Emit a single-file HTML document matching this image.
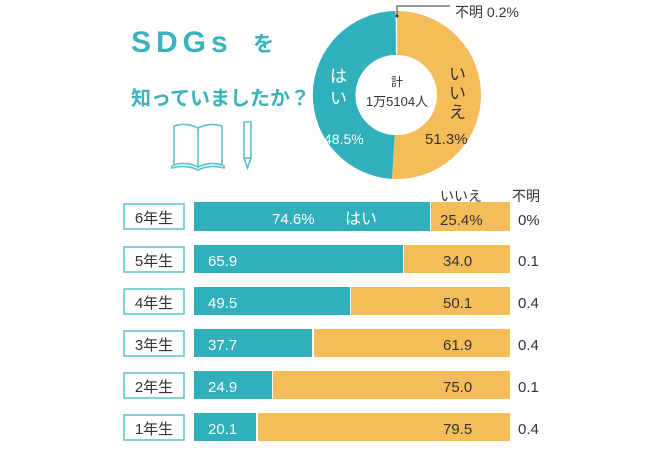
<!DOCTYPE html>
<html><head><meta charset="utf-8"><style>
html,body{margin:0;padding:0;background:#fff;}
svg{display:block;font-family:"Liberation Sans","Noto Sans CJK JP",sans-serif;}
</style></head><body>
<svg width="670" height="470" viewBox="0 0 670 470">
<text x="131" y="52" font-size="30" font-weight="bold" fill="#3bb3bd" letter-spacing="5">SDGs</text>
<text x="253" y="51" font-size="21" font-weight="bold" fill="#3bb3bd">を</text>
<text x="131" y="105" font-size="20" font-weight="bold" fill="#3bb3bd">知っていましたか？</text>
<g fill="none" stroke="#5cc0c8" stroke-width="1.6">
<path d="M174 126 Q186 122 198 128 L198 167 Q186 161 174 165 Z"/>
<path d="M198 128 Q210 122 222 126 L222 165 Q210 161 198 167"/>
<path d="M172 165 L172 168 Q186 164 198 170 Q210 164 224 168 L224 165"/>
<path d="M244 122 L251 122 L251 158 L247.5 168 L244 158 Z"/>
<line x1="244" y1="158" x2="251" y2="158"/>
</g>
<g transform="translate(397,95)">
<path d="M0,-84 A84,84 0 1,1 -5,83.85 L-2.4,40 A40,40 0 1,0 0,-40 Z" fill="#f5bd5a"/>
<path d="M-5,83.85 A84,84 0 0,1 -1.5,-84 L-0.7,-40 A40,40 0 0,0 -2.4,40 Z" fill="#2fb0bb"/>
<line x1="-0.5" y1="-84" x2="-0.5" y2="-40" stroke="#fff" stroke-width="1.2"/>
<circle r="40" fill="#fff"/>
</g>
<polyline points="397,16 397,6 450,6" fill="none" stroke="#333" stroke-width="1"/>
<circle cx="397" cy="16" r="1.5" fill="#333"/>
<text x="455" y="17" font-size="14" fill="#333">不明 0.2%</text>
<text x="397" y="86" font-size="12" fill="#333" text-anchor="middle">計</text>
<text x="397" y="106" font-size="13" fill="#333" text-anchor="middle">1万5104人</text>
<text x="330" y="82" font-size="17" fill="#fff">は</text>
<text x="330" y="104" font-size="17" fill="#fff">い</text>
<text x="324" y="144" font-size="14" fill="#fff">48.5%</text>
<text x="449" y="80" font-size="17" fill="#333">い</text>
<text x="449" y="99" font-size="17" fill="#333">い</text>
<text x="449" y="118" font-size="17" fill="#333">え</text>
<text x="425" y="144" font-size="15" fill="#333">51.3%</text>
<g font-size="15">
<g transform="translate(0,202)">
<rect x="124" y="2" width="60" height="25" fill="#fff" stroke="#5cc0c8" stroke-width="1.5"/>
<text x="154" y="21" text-anchor="middle" fill="#333">6年生</text>
<rect x="194" y="0" width="236" height="29" fill="#2fb0bb"/>
<rect x="431" y="0" width="79" height="29" fill="#f5bd5a"/>
<text x="272" y="22" fill="#fff">74.6%</text><text x="345" y="22" fill="#fff" font-size="16">はい</text>
<text x="440" y="-1" fill="#333" font-size="14">いいえ</text>
<text x="440" y="23" fill="#333">25.4%</text>
<text x="512" y="-1" fill="#333" font-size="14">不明</text>
<text x="518" y="23" fill="#333">0%</text>
</g>
<g transform="translate(0,245)">
<rect x="124" y="2" width="60" height="25" fill="#fff" stroke="#5cc0c8" stroke-width="1.5"/>
<text x="154" y="21" text-anchor="middle" fill="#333">5年生</text>
<rect x="194" y="0" width="209" height="28" fill="#2fb0bb"/>
<rect x="404" y="0" width="106" height="28" fill="#f5bd5a"/>
<text x="208" y="21" fill="#fff">65.9</text><text x="443" y="21" fill="#333">34.0</text><text x="518" y="21" fill="#333">0.1</text>
</g>
<g transform="translate(0,287)">
<rect x="124" y="2" width="60" height="25" fill="#fff" stroke="#5cc0c8" stroke-width="1.5"/>
<text x="154" y="21" text-anchor="middle" fill="#333">4年生</text>
<rect x="194" y="0" width="156" height="28" fill="#2fb0bb"/>
<rect x="351" y="0" width="159" height="28" fill="#f5bd5a"/>
<text x="208" y="21" fill="#fff">49.5</text><text x="443" y="21" fill="#333">50.1</text><text x="518" y="21" fill="#333">0.4</text>
</g>
<g transform="translate(0,329)">
<rect x="124" y="2" width="60" height="25" fill="#fff" stroke="#5cc0c8" stroke-width="1.5"/>
<text x="154" y="21" text-anchor="middle" fill="#333">3年生</text>
<rect x="194" y="0" width="118" height="28" fill="#2fb0bb"/>
<rect x="314" y="0" width="196" height="28" fill="#f5bd5a"/>
<text x="208" y="21" fill="#fff">37.7</text><text x="443" y="21" fill="#333">61.9</text><text x="518" y="21" fill="#333">0.4</text>
</g>
<g transform="translate(0,371)">
<rect x="124" y="2" width="60" height="25" fill="#fff" stroke="#5cc0c8" stroke-width="1.5"/>
<text x="154" y="21" text-anchor="middle" fill="#333">2年生</text>
<rect x="194" y="0" width="78" height="28" fill="#2fb0bb"/>
<rect x="273" y="0" width="237" height="28" fill="#f5bd5a"/>
<text x="208" y="21" fill="#fff">24.9</text><text x="443" y="21" fill="#333">75.0</text><text x="518" y="21" fill="#333">0.1</text>
</g>
<g transform="translate(0,413)">
<rect x="124" y="2" width="60" height="25" fill="#fff" stroke="#5cc0c8" stroke-width="1.5"/>
<text x="154" y="21" text-anchor="middle" fill="#333">1年生</text>
<rect x="194" y="0" width="62" height="28" fill="#2fb0bb"/>
<rect x="258" y="0" width="252" height="28" fill="#f5bd5a"/>
<text x="208" y="21" fill="#fff">20.1</text><text x="443" y="21" fill="#333">79.5</text><text x="518" y="21" fill="#333">0.4</text>
</g>
</g>
</svg>
</body></html>
